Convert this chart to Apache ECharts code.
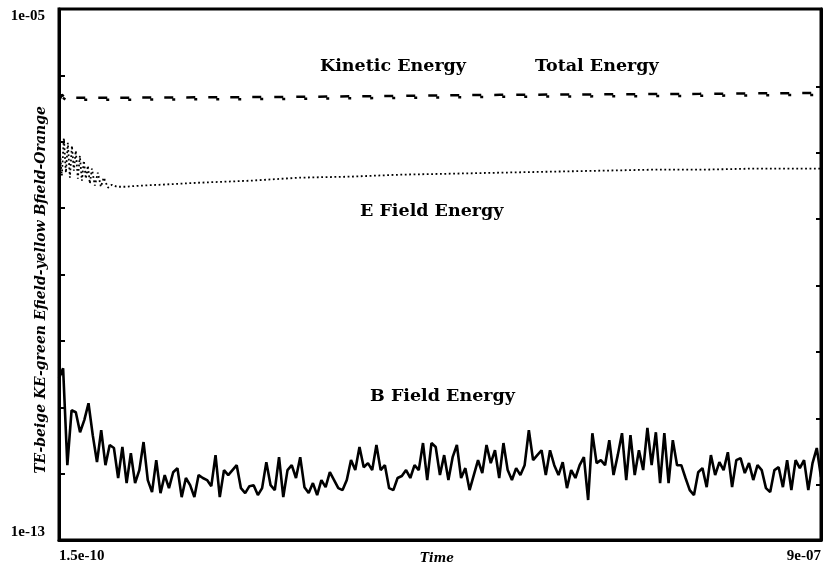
<!DOCTYPE html>
<html><head><meta charset="utf-8">
<script src="https://cdn.jsdelivr.net/npm/echarts@6/dist/echarts.min.js"></script>
<style>html,body{margin:0;padding:0;background:#fff}#c{width:827px;height:576px}</style>
</head><body><div id="c"></div>
<script>
// X range and tick labels
const xMin = 1.5e-10, xMax = 9e-7;
const xTickValues = [1.5e-10, 9e-7];
const xTickLabels = ['1.5e-10', '9e-07'];
const yTickValues = [1e-13, 1e-5];
const yTickLabels = ['1e-13', '1e-05'];
const rightTickValues = [6.8e-7, 6.8e-8, 6.8e-9, 6.8e-10, 6.8e-11, 6.8e-12, 6.8e-13];

// B field energy, sampled every 5e-9 s
const bStep = 5e-9;
const bField = [
2.73e-11,3.86e-11,1.34e-12,9.0e-12,8.4e-12,4.2e-12,6.4e-12,1.15e-11,3.8e-12,1.49e-12,
4.5e-12,1.34e-12,2.7e-12,2.43e-12,8.6e-13,2.52e-12,7.2e-13,2.03e-12,7.2e-13,1.13e-12,
2.99e-12,8.0e-13,5.27e-13,1.6e-12,5.09e-13,9.5e-13,6.04e-13,1.05e-12,1.21e-12,4.43e-13,
8.6e-13,6.7e-13,4.43e-13,9.5e-13,8.6e-13,8.0e-13,6.47e-13,1.9e-12,4.43e-13,1.13e-12,
9.5e-13,1.13e-12,1.34e-12,6.04e-13,5.09e-13,6.47e-13,6.7e-13,4.75e-13,6.04e-13,1.49e-12,
6.7e-13,5.65e-13,1.77e-12,4.43e-13,1.13e-12,1.34e-12,8.6e-13,1.77e-12,6.25e-13,5.09e-13,
7.2e-13,4.75e-13,8.0e-13,6.25e-13,1.05e-12,8.0e-13,6.04e-13,5.65e-13,8.0e-13,1.6e-12,
1.13e-12,2.52e-12,1.25e-12,1.44e-12,1.13e-12,2.7e-12,1.13e-12,1.34e-12,6.04e-13,5.65e-13,
8.6e-13,9.2e-13,1.13e-12,8.6e-13,1.34e-12,1.13e-12,2.89e-12,8.0e-13,2.89e-12,2.52e-12,
9.5e-13,1.9e-12,8.0e-13,1.77e-12,2.7e-12,8.6e-13,1.21e-12,5.65e-13,9.5e-13,1.6e-12,
1.02e-12,2.7e-12,1.44e-12,2.25e-12,8.6e-13,2.89e-12,1.13e-12,8.0e-13,1.21e-12,9.5e-13,
1.34e-12,4.5e-12,1.6e-12,1.9e-12,2.25e-12,9.5e-13,2.25e-12,1.34e-12,9.5e-13,1.49e-12,
6.04e-13,1.13e-12,8.6e-13,1.34e-12,1.77e-12,4.0e-13,4.06e-12,1.44e-12,1.6e-12,1.34e-12,
3.2e-12,9.5e-13,1.9e-12,4.06e-12,8.0e-13,3.8e-12,9.5e-13,2.25e-12,1.13e-12,4.87e-12,
1.34e-12,4.2e-12,7.2e-13,4.06e-12,7.2e-13,3.2e-12,1.34e-12,1.34e-12,8.6e-13,5.65e-13,
4.75e-13,1.05e-12,1.21e-12,6.25e-13,1.9e-12,9.5e-13,1.49e-12,1.13e-12,2.1e-12,6.25e-13,
1.6e-12,1.71e-12,1.02e-12,1.44e-12,8.0e-13,1.34e-12,1.13e-12,6.04e-13,5.27e-13,1.13e-12,
1.25e-12,6.25e-13,1.6e-12,5.65e-13,1.6e-12,1.21e-12,1.6e-12,5.65e-13,1.44e-12,2.43e-12,
8.9e-13
];

// E field energy
const eTimes = [1.5e-10,3.5e-9,5.9e-9,8.3e-9,1.06e-8,1.3e-8,1.54e-8,1.77e-8,2.0e-8,2.24e-8,
2.48e-8,2.72e-8,2.95e-8,3.19e-8,3.43e-8,3.66e-8,3.9e-8,4.25e-8,4.6e-8,4.96e-8,
5.3e-8,5.8e-8,6.26e-8,6.85e-8,7.8e-8,9.6e-8,1.19e-7,1.67e-7,2.26e-7,2.85e-7,
3.44e-7,4.03e-7,4.62e-7,5.21e-7,5.8e-7,6.39e-7,6.98e-7,7.57e-7,8.16e-7,9.0e-7];
const eField = [1.035e-7,3.08e-8,1.148e-7,3.42e-8,9.66e-8,2.88e-8,8.71e-8,3.66e-8,7.33e-8,2.78e-8,
6.15e-8,2.59e-8,5.18e-8,2.78e-8,4.36e-8,2.34e-8,3.93e-8,2.18e-8,3.42e-8,2.10e-8,
2.88e-8,2.03e-8,2.25e-8,2.10e-8,2.10e-8,2.18e-8,2.25e-8,2.42e-8,2.59e-8,2.88e-8,
2.98e-8,3.19e-8,3.30e-8,3.42e-8,3.54e-8,3.66e-8,3.79e-8,3.79e-8,3.93e-8,3.93e-8];

// Kinetic and total energy
const keTimes = [1.5e-10,3.5e-9,8.3e-9,4.8e-8,2.85e-7,5.21e-7,7.57e-7,9.0e-7];
const kinetic = [3.86e-7,4.75e-7,4.28e-7,4.28e-7,4.43e-7,4.75e-7,4.92e-7,5.09e-7];
const total   = [4.14e-7,5.09e-7,4.59e-7,4.59e-7,4.75e-7,5.09e-7,5.27e-7,5.45e-7];

const annotations = [
  {text: 'Kinetic Energy', x: 320, y: 68},
  {text: 'Total Energy', x: 535, y: 68},
  {text: 'E Field Energy', x: 360, y: 213},
  {text: 'B Field Energy', x: 370, y: 398}
];
const yAxisTitle = 'TE-beige KE-green Efield-yellow Bfield-Orange';
const xAxisTitle = 'Time';

const chart = echarts.init(document.getElementById('c'));
const bData = bField.map((v, i) => [Math.max(xMin, i * bStep), v]);
const zip = (t, v) => t.map((x, i) => [x, v[i]]);
const labelFont = {fontFamily: 'Liberation Serif', fontWeight: 'bold', fontSize: 15, color: '#000'};

chart.setOption({
  animation: false,
  backgroundColor: '#fff',
  grid: {left: 59, right: 6, top: 9, bottom: 36, show: true, borderColor: '#000', borderWidth: 3},
  xAxis: {
    type: 'value', min: xMin, max: xMax,
    axisLine: {show: true, lineStyle: {color: '#000', width: 3}},
    axisTick: {show: false}, splitLine: {show: false},
    axisLabel: Object.assign({}, labelFont, {
      customValues: xTickValues, margin: 9,
      alignMinLabel: 'left', alignMaxLabel: 'right',
      formatter: v => xTickLabels[xTickValues.findIndex(t => Math.abs(t - v) < 1e-12)] || ''
    })
  },
  yAxis: [{
    type: 'log', min: yTickValues[0], max: yTickValues[1], logBase: 10,
    axisLine: {show: true, lineStyle: {color: '#000', width: 3}},
    axisTick: {show: true, inside: true, length: 6, lineStyle: {color: '#000', width: 2}},
    splitLine: {show: false},
    axisLabel: Object.assign({}, labelFont, {
      customValues: yTickValues, margin: 14,
      verticalAlignMinLabel: 'bottom', verticalAlignMaxLabel: 'top',
      formatter: v => yTickLabels[yTickValues.findIndex(t => Math.abs(Math.log10(t) - Math.log10(v)) < 1e-6)] || ''
    })
  }, {
    type: 'log', min: yTickValues[0], max: yTickValues[1], position: 'right',
    axisLine: {show: true, lineStyle: {color: '#000', width: 3}},
    axisTick: {show: true, inside: true, length: 5, customValues: rightTickValues, lineStyle: {color: '#000', width: 2}},
    axisLabel: {show: false}, splitLine: {show: false}
  }],
  series: [
    {name: 'Total Energy', type: 'line', data: zip(keTimes, total), symbol: 'none', silent: true,
     lineStyle: {color: '#000', width: 2.5, type: [9, 13]}},
    {name: 'Kinetic Energy', type: 'line', data: zip(keTimes, kinetic), symbol: 'none', silent: true,
     lineStyle: {color: '#000', width: 2.5, type: [3, 19], dashOffset: 14}},
    {name: 'E Field Energy', type: 'line', data: zip(eTimes, eField), symbol: 'none', silent: true,
     lineStyle: {color: '#000', width: 1.8, type: [1.8, 2.6]}},
    {name: 'B Field Energy', type: 'line', data: bData, symbol: 'none', silent: true,
     lineStyle: {color: '#000', width: 2.6}}
  ],
  graphic: annotations.map(a => ({
    type: 'text', left: a.x, top: a.y - 11,
    style: {text: a.text, fill: '#000', font: 'bold 17.5px "DejaVu Serif"'}
  })).concat([
    {type: 'text', x: 41, y: 290, rotation: Math.PI / 2,
     style: {text: yAxisTitle, fill: '#000', font: 'italic bold 14px "DejaVu Serif"', align: 'center', verticalAlign: 'middle'}},
    {type: 'text', x: 437, y: 559,
     style: {text: xAxisTitle, fill: '#000', font: 'italic bold 12px "DejaVu Serif"', align: 'center', verticalAlign: 'middle'}}
  ])
});
</script></body></html>
